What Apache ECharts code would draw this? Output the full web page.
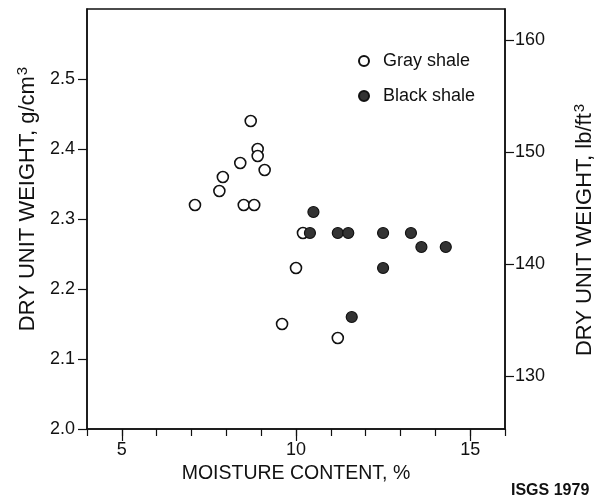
<!DOCTYPE html>
<html>
<head>
<meta charset="utf-8">
<script src="https://cdn.jsdelivr.net/npm/echarts@6/dist/echarts.min.js"></script>
<style>html,body{margin:0;padding:0;background:#fff;}#c{width:600px;height:500px;}</style>
</head>
<body>
<div id="c"></div>
<script>
// Moisture content (%) and dry unit weight (g/cm3)
const grayX = [7.1, 7.8, 7.9, 8.4, 8.5, 8.7, 8.8, 8.9, 8.9, 9.1, 10.2, 10.0, 9.6, 11.2];
const grayY = [2.32, 2.34, 2.36, 2.38, 2.32, 2.44, 2.32, 2.40, 2.39, 2.37, 2.28, 2.23, 2.15, 2.13];
const blackX = [10.5, 10.4, 11.2, 11.5, 12.5, 13.3, 13.6, 14.3, 12.5, 11.6];
const blackY = [2.31, 2.28, 2.28, 2.28, 2.28, 2.28, 2.26, 2.26, 2.23, 2.16];
const xMajorTicks = [5, 10, 15];
const yLeftTicks = [2.0, 2.1, 2.2, 2.3, 2.4, 2.5];
const yRightTicks = [130, 140, 150, 160];
const G_TO_LB = 62.428;
const xMin = 4, xMax = 16, yMin = 2.0, yMax = 2.6;
const rightMin = 125.3;                          // lb/ft3 scale as printed
const rightMax = rightMin + (yMax - yMin) * G_TO_LB;

const pair = (xs, ys) => xs.map((x, i) => [x, ys[i]]);
const font = 'Liberation Sans';
const ink = '#111';

const chart = echarts.init(document.getElementById('c'), null, {renderer: 'canvas'});
chart.setOption({
  animation: false,
  backgroundColor: '#fff',
  title: {
    text: 'ISGS 1979', left: 511, top: 483, padding: 0,
    textStyle: {fontFamily: font, fontSize: 16, fontWeight: 'bold', color: ink}
  },
  grid: {left: 87, right: 95, top: 9, bottom: 71, containLabel: false, outerBoundsMode: 'none',
    show: true, borderColor: ink, borderWidth: 1.5, backgroundColor: 'transparent'},
  legend: {
    orient: 'vertical', left: 353, top: 47, itemWidth: 10, itemHeight: 10, itemGap: 17,
    textStyle: {fontFamily: font, fontSize: 18, color: ink, padding: [0, 0, 0, 9]},
    data: ['Gray shale', 'Black shale']
  },
  xAxis: [{
    type: 'value', min: xMin, max: xMax, interval: 1, position: 'bottom',
    name: 'MOISTURE CONTENT, %', nameLocation: 'middle', nameGap: 35,
    nameTextStyle: {fontFamily: font, fontSize: 19.5, color: ink},
    axisLine: {show: true, lineStyle: {color: ink, width: 1.5}},
    axisTick: {show: true, length: 7, lineStyle: {color: ink, width: 1.2}},
    axisLabel: {customValues: xMajorTicks, fontFamily: font, fontSize: 18, color: ink, margin: 12},
    splitLine: {show: false}
  }, {
    type: 'value', min: xMin, max: xMax, position: 'bottom',
    axisLine: {show: false},
    axisTick: {show: true, customValues: xMajorTicks, length: 12, lineStyle: {color: ink, width: 1.2}},
    axisLabel: {show: false},
    splitLine: {show: false}
  }],
  yAxis: [{
    type: 'value', min: yMin, max: yMax, position: 'left',
    name: 'DRY UNIT WEIGHT, g/cm{s|3}', nameLocation: 'middle', nameGap: 45, nameRotate: 90,
    nameTextStyle: {fontFamily: font, fontSize: 22, color: ink, padding: [0, 0, 0, 40],
      rich: {s: {fontFamily: font, fontSize: 15, color: ink, padding: [0, 0, 11, 1]}}},
    axisLine: {show: true, lineStyle: {color: ink, width: 1.5}},
    axisTick: {show: true, customValues: yLeftTicks, length: 9, lineStyle: {color: ink, width: 1.2}},
    axisLabel: {customValues: yLeftTicks, fontFamily: font, fontSize: 18, color: ink, margin: 12,
      formatter: v => v.toFixed(1)},
    splitLine: {show: false}
  }, {
    type: 'value', min: rightMin, max: rightMax, position: 'right',
    name: 'DRY UNIT WEIGHT, lb/ft{s|3}', nameLocation: 'middle', nameGap: 67, nameRotate: 90,
    nameTextStyle: {fontFamily: font, fontSize: 22, color: ink, padding: [0, 22, 0, 0],
      rich: {s: {fontFamily: font, fontSize: 15, color: ink, padding: [0, 0, 11, 1]}}},
    axisLine: {show: true, lineStyle: {color: ink, width: 1.5}},
    axisTick: {show: true, customValues: yRightTicks, length: 9, lineStyle: {color: ink, width: 1.2}},
    axisLabel: {customValues: yRightTicks, fontFamily: font, fontSize: 18, color: ink, margin: 10},
    splitLine: {show: false}
  }],
  series: [{
    name: 'Gray shale', type: 'scatter', xAxisIndex: 0, yAxisIndex: 0,
    symbol: 'circle', symbolSize: 11,
    itemStyle: {color: '#fff', borderColor: ink, borderWidth: 1.6, opacity: 1},
    data: pair(grayX, grayY)
  }, {
    name: 'Black shale', type: 'scatter', xAxisIndex: 0, yAxisIndex: 0,
    symbol: 'circle', symbolSize: 11,
    itemStyle: {color: '#333', borderColor: ink, borderWidth: 1.2, opacity: 1},
    data: pair(blackX, blackY)
  }]
});
</script>
</body>
</html>
